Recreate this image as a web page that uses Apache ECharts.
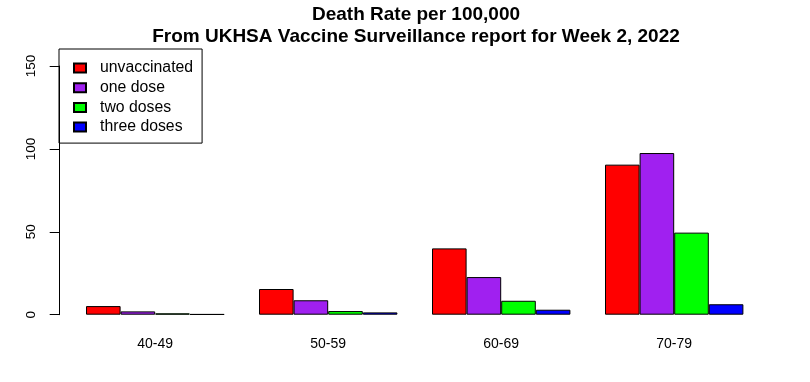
<!DOCTYPE html>
<html>
<head>
<meta charset="utf-8">
<script src="https://cdn.jsdelivr.net/npm/echarts@6/dist/echarts.min.js"></script>
<style>html,body{margin:0;padding:0;background:#fff}#c{width:810px;height:382px}</style>
</head>
<body>
<div id="c"></div>
<script>
var categories = ['40-49', '50-59', '60-69', '70-79'];
var seriesNames = ['unvaccinated', 'one dose', 'two doses', 'three doses'];
var unvaccinated = [5.2, 15.5, 40.0, 90.5];
var oneDose = [2.0, 8.7, 22.7, 97.5];
var twoDoses = [0.8, 2.2, 8.4, 49.5];
var threeDoses = [0.3, 1.4, 3.0, 6.3];
var yTicks = [0, 50, 100, 150];
var colors = ['#FF0000', '#A020F0', '#00FF00', '#0000FF'];

var dataSets = [unvaccinated, oneDose, twoDoses, threeDoses];
var FONT = '"Liberation Sans", Arial, Helvetica, sans-serif';

var chart = echarts.init(document.getElementById('c'), null, {renderer: 'canvas'});
chart.setOption({
  animation: false,
  backgroundColor: '#fff',
  title: {
    text: 'Death Rate per 100,000\nFrom UKHSA Vaccine Surveillance report for Week 2, 2022',
    left: 416,
    top: 4,
    padding: 0,
    textAlign: 'center',
    textStyle: {fontFamily: FONT, fontSize: 19, fontWeight: 'bold', color: '#000', lineHeight: 22}
  },
  legend: {
    orient: 'vertical',
    left: 59,
    top: 49,
    padding: [11, 9, 8, 14],
    itemGap: 3.7,
    itemWidth: 12,
    itemHeight: 9,
    icon: 'rect',
    borderColor: '#000',
    borderWidth: 1,
    data: seriesNames,
    textStyle: {fontFamily: FONT, fontSize: 15.8, color: '#000', lineHeight: 16, padding: [0, 0, 0, 9]}
  },
  grid: {left: 68.7, right: 49.3, top: 66, bottom: 67.3, containLabel: false},
  xAxis: {
    type: 'category',
    data: categories,
    axisLine: {show: false},
    axisTick: {show: false},
    axisLabel: {fontFamily: FONT, fontSize: 14, color: '#000', margin: 22}
  },
  yAxis: {
    type: 'value',
    min: yTicks[0],
    max: yTicks[yTicks.length - 1],
    interval: yTicks[1] - yTicks[0],
    offset: 9,
    splitLine: {show: false},
    axisLine: {show: true, lineStyle: {color: '#000', width: 1}},
    axisTick: {show: true, length: 10, lineStyle: {color: '#000'}},
    axisLabel: {fontFamily: FONT, fontSize: 13.5, color: '#000', rotate: 90, margin: 21}
  },
  series: seriesNames.map(function (name, i) {
    return {
      name: name,
      type: 'bar',
      data: dataSets[i],
      barGap: '0%',
      barCategoryGap: '20%',
      itemStyle: {color: colors[i], borderColor: '#000', borderWidth: 1}
    };
  })
});
</script>
</body>
</html>
